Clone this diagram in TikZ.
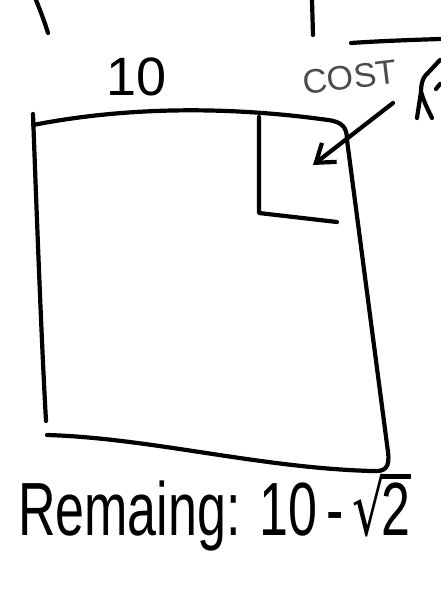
\documentclass[tikz,border=0pt]{standalone}
\usepackage{fontspec}
\setmainfont{Liberation Sans}
\newfontfamily\dejavu{DejaVu Sans}
\usetikzlibrary{arrows.meta}
\tikzset{
  ink/.style={line width=4.2pt, line cap=round, line join=round, black},
  hand/.style={inner sep=0pt, outer sep=0pt},
}
\begin{document}
\begin{tikzpicture}[x=1pt,y=-1pt]
\useasboundingbox[fill=white] (0,0) rectangle (440,610);
% partial strokes at the top
\draw[ink] (36,0) .. controls (40,10) and (44,20) .. (48,33);
\draw[ink] (312,0) -- (313,35);
\draw[ink] (351,43) .. controls (380,41) and (410,40) .. (440,39);
\draw[ink] (440,60) -- (425,76) .. controls (422,80) and (421,86) .. (421,92) -- (417,118);
\draw[ink] (421,92) .. controls (424,102) and (428,110) .. (432,118);
\draw[ink] (436,89) -- (440,84);
% labels
\node[hand, font=\fontsize{54}{54}\selectfont] (ten) at (137,77) {10};
\node[hand, font=\fontsize{34}{34}\selectfont, text=black!70, rotate=7] (cost) at (350,77) {COST};
% main square
\coordinate (tl) at (33,114);
\coordinate (bl) at (46,421);
\draw[ink] (tl) .. controls (38,250) and (42,350) .. (bl);
\draw[ink] (33,125) .. controls (120,108) and (220,105) .. (328,120)
  .. controls (343,122) and (347,128) .. (347,140)
  -- (388,452) .. controls (390,468) and (385,472) .. (372,471)
  .. controls (260,468) and (150,438) .. (47,435);
% inner small square
\draw[ink] (259,117) -- (259,213) -- (337,222);
% arrow
\coordinate (atail) at (393,103);
\coordinate (ahead) at (313,165);
\draw[ink, -{Straight Barb[length=17pt, width=24pt, line width=4.2pt]}] (atail) -- (ahead);
% bottom text
\node[hand, anchor=base west, font=\fontsize{52}{52}\selectfont, yscale=1.45, transform shape] (rem) at (18,535) {Remaing: 10\,-\,{\dejavu √}\kern-0.08em\rlap{\rule[0.74em]{0.58em}{0.07em}}2};
\end{tikzpicture}
\end{document}
